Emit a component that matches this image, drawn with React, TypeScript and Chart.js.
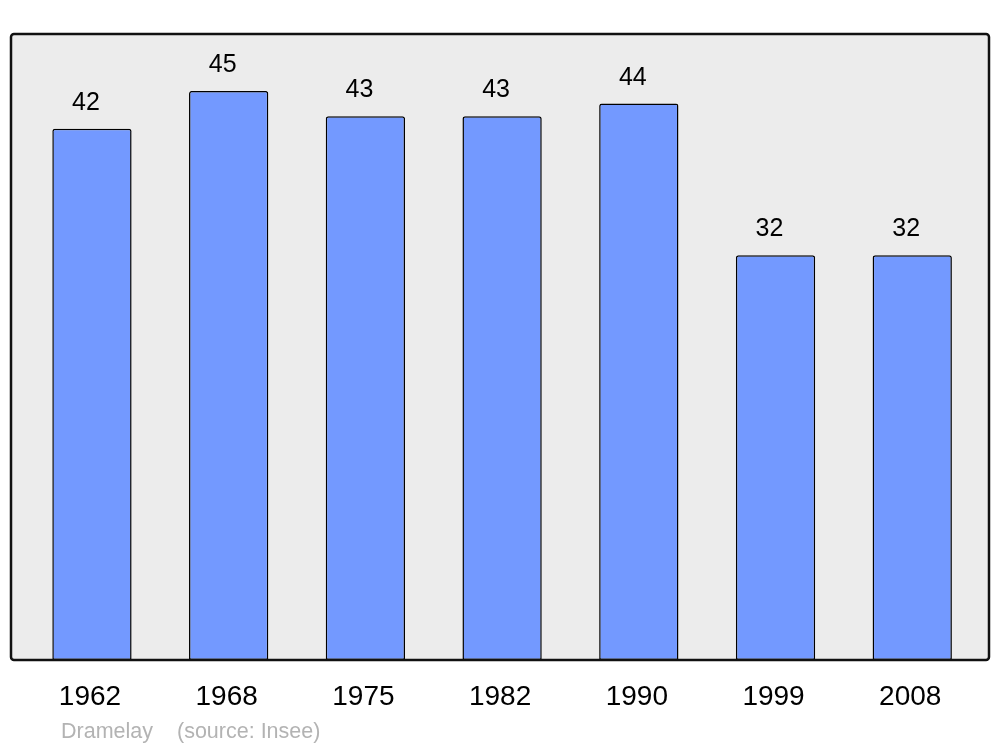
import React, { useEffect, useRef } from "react";
import { Chart, registerables } from "chart.js";

Chart.register(...registerables);

const years = ["1962", "1968", "1975", "1982", "1990", "1999", "2008"];
const population = [42, 45, 43, 43, 44, 32, 32];
const footerName = "Dramelay";
const footerSource = "(source: Insee)";

const FONT = "'Liberation Sans', Arial, sans-serif";

const framePlugin = {
  id: "frame",
  beforeDraw(chart: any) {
    const { ctx, chartArea } = chart;
    const l = chartArea.left - 12.6;
    const r = chartArea.right + 8.4;
    const t = chartArea.top;
    const b = chartArea.bottom;
    ctx.save();
    ctx.fillStyle = "#ffffff";
    ctx.fillRect(0, 0, chart.width, chart.height);
    ctx.beginPath();
    ctx.roundRect(l, t, r - l, b - t, 3);
    ctx.fillStyle = "#ececec";
    ctx.fill();
    ctx.restore();
  },
  afterDatasetsDraw(chart: any) {
    const { ctx, chartArea } = chart;
    const l = chartArea.left - 12.6;
    const r = chartArea.right + 8.4;
    const t = chartArea.top;
    const b = chartArea.bottom;
    ctx.save();
    ctx.beginPath();
    ctx.roundRect(l, t, r - l, b - t, 3);
    ctx.lineWidth = 2.5;
    ctx.strokeStyle = "#111111";
    ctx.stroke();

    const meta = chart.getDatasetMeta(0);
    ctx.fillStyle = "#000000";
    ctx.font = `25px ${FONT}`;
    ctx.textAlign = "center";
    ctx.textBaseline = "alphabetic";
    meta.data.forEach((bar: any, i: number) => {
      ctx.fillText(String(population[i]), bar.x - 6, bar.y - 19);
    });

    ctx.fillStyle = "#b3b3b3";
    ctx.font = `21.5px ${FONT}`;
    ctx.textAlign = "left";
    ctx.fillText(footerName, 61, 738);
    ctx.fillText(footerSource, 177, 738);
    ctx.restore();
  },
};

export default function App() {
  const ref = useRef<HTMLCanvasElement | null>(null);
  useEffect(() => {
    document.body.style.margin = "0";
    const chart = new Chart(ref.current as HTMLCanvasElement, {
      type: "bar",
      data: {
        labels: years,
        datasets: [
          {
            data: population,
            backgroundColor: "#7399ff",
            borderColor: "#000000",
            borderWidth: 1.5,
            borderRadius: { topLeft: 2.5, topRight: 2.5, bottomLeft: 0, bottomRight: 0 },
            borderSkipped: false,
            barPercentage: 0.58,
            categoryPercentage: 1,
          },
        ],
      },
      options: {
        responsive: false,
        animation: false,
        layout: { padding: { left: 23.6, right: 1000 - 980.6, top: 34, bottom: 0 } },
        plugins: { legend: { display: false }, tooltip: { enabled: false } },
        scales: {
          x: {
            offset: true,
            grid: { display: false, drawTicks: false },
            border: { display: false },
            ticks: {
              color: "#000000",
              font: { family: FONT, size: 28 },
              padding: 20,
              labelOffset: -2,
              maxRotation: 0,
            },
            afterFit(scale: any) {
              scale.height = 87;
            },
          },
          y: { display: false, min: 0, max: 49.5 },
        },
      },
      plugins: [framePlugin],
    });
    return () => chart.destroy();
  }, []);
  return (
    <div style={{ position: "absolute", left: 0, top: 0, width: 1000, height: 747 }}>
      <canvas ref={ref} width={1000} height={747} />
    </div>
  );
}
